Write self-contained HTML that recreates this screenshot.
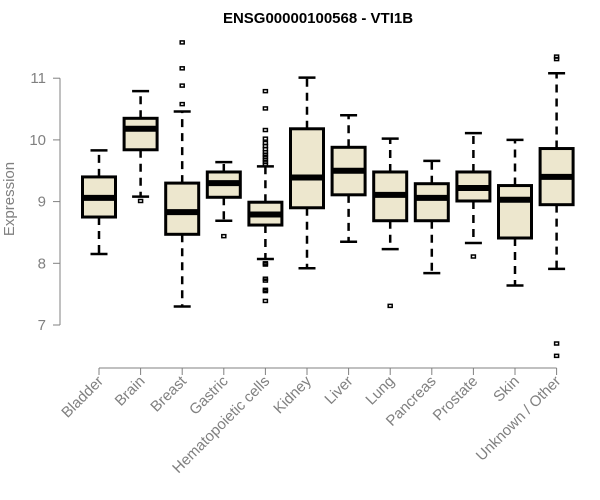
<!DOCTYPE html>
<html><head><meta charset="utf-8"><style>
body{margin:0;background:#fff}
svg{display:block;font-family:"Liberation Sans",Arial,sans-serif}
</style></head><body>
<svg id="chart" width="600" height="500" viewBox="0 0 600 500" xmlns="http://www.w3.org/2000/svg">
<text x="318" y="23" text-anchor="middle" font-weight="bold" font-size="15">ENSG00000100568 - VTI1B</text>
<text transform="translate(14,199) rotate(-90)" text-anchor="middle" font-size="15" fill="#808080">Expression</text>
<g id="axes"></g>
<g id="plot"></g>
</svg>
<script>
const categories=["Bladder","Brain","Breast","Gastric","Hematopoietic cells","Kidney","Liver","Lung","Pancreas","Prostate","Skin","Unknown / Other"];
const whiskLow=[8.15,9.08,7.30,8.69,8.07,7.92,8.35,8.23,7.84,8.33,7.64,7.91];
const q1=[8.75,9.84,8.47,9.07,8.62,8.90,9.11,8.69,8.69,9.01,8.41,8.95];
const medians=[9.06,10.18,8.83,9.30,8.79,9.39,9.50,9.11,9.06,9.22,9.03,9.40];
const q3=[9.40,10.35,9.30,9.48,8.99,10.18,9.88,9.48,9.29,9.48,9.26,9.86];
const whiskHigh=[9.83,10.79,10.46,9.64,9.57,11.01,10.40,10.02,9.66,10.11,10.00,11.08];
const outliers=[[],[9.01],[11.58,11.16,10.88,10.58],[8.44],
 [10.79,10.51,10.16,10.02,9.95,9.9,9.85,9.8,9.76,9.72,9.68,9.64,9.60,8.0,7.98,7.75,7.72,7.57,7.55,7.39],
 [],[],[7.31],[],[8.11],[],[11.35,11.31,6.70,6.50]];
const yTicks=[7,8,9,10,11];
const NS="http://www.w3.org/2000/svg";
const yS=v=>325-(v-7)*61.7;
const xS=i=>99+i*41.6;
const axes=document.getElementById('axes'),plot=document.getElementById('plot');
function mk(tag,attrs,parent){const e=document.createElementNS(NS,tag);for(const k in attrs)e.setAttribute(k,attrs[k]);parent.appendChild(e);return e;}
const ya=mk('line',{x1:60,x2:60,y1:yS(7),y2:yS(11),stroke:'#808080'},axes);


yTicks.forEach(t=>{
 const tk=mk('line',{x1:53,x2:60,y1:yS(t),y2:yS(t),stroke:'#808080'},axes);
 
 
 const tl=mk('text',{x:46,y:yS(t)+5,'text-anchor':'end','font-size':15,fill:'#808080'},axes);
 tl.textContent=t;
 
 
});
const xa=mk('line',{x1:xS(0),x2:xS(categories.length-1),y1:368,y2:368,stroke:'#808080'},axes);


categories.forEach((c,i)=>{
 const x=xS(i);
 const tk=mk('line',{x1:x,x2:x,y1:368,y2:375,stroke:'#808080'},axes);
 
 
 const tl=mk('text',{transform:`translate(${x+5},382) rotate(-45)`,'text-anchor':'end','font-size':15,fill:'#808080'},axes);
 tl.textContent=c;
 
 
 const g=mk('g',{},plot);
 
 
 mk('line',{x1:x,x2:x,y1:yS(q3[i]),y2:yS(whiskHigh[i]),stroke:'#000','stroke-width':2.5,'stroke-dasharray':'8,6'},g);
 mk('line',{x1:x,x2:x,y1:yS(q1[i]),y2:yS(whiskLow[i]),stroke:'#000','stroke-width':2.5,'stroke-dasharray':'8,6'},g);
 mk('line',{x1:x-8.5,x2:x+8.5,y1:yS(whiskHigh[i]),y2:yS(whiskHigh[i]),stroke:'#000','stroke-width':2.5},g);
 mk('line',{x1:x-8.5,x2:x+8.5,y1:yS(whiskLow[i]),y2:yS(whiskLow[i]),stroke:'#000','stroke-width':2.5},g);
 mk('rect',{x:x-16.5,y:yS(q3[i]),width:33,height:yS(q1[i])-yS(q3[i]),fill:'#ede7ce',stroke:'#000','stroke-width':3},g);
 mk('line',{x1:x-16.5,x2:x+16.5,y1:yS(medians[i]),y2:yS(medians[i]),stroke:'#000','stroke-width':6},g);
 outliers[i].forEach(v=>{
  const o=mk('rect',{x:x-2,y:yS(v)-1.5,width:4,height:3,fill:'none',stroke:'#000','stroke-width':1.5},g);
  
  
 });
});
</script>
</body></html>
